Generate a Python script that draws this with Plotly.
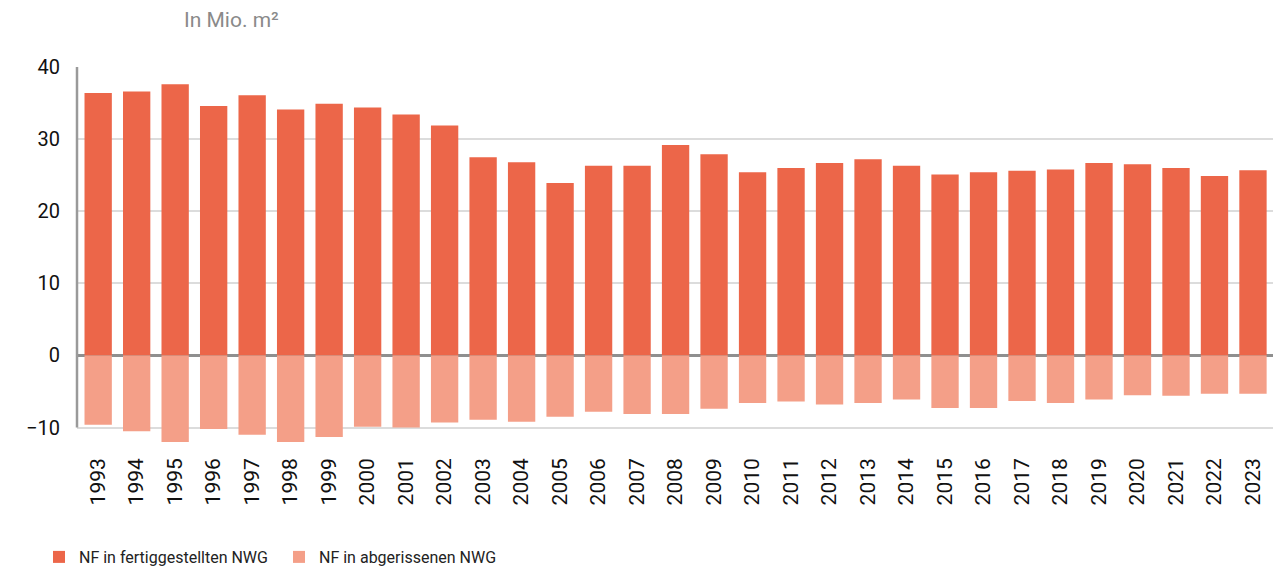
import plotly.graph_objects as go

years = [str(y) for y in range(1993, 2024)]
fertig = [36.4, 36.6, 37.6, 34.6, 36.1, 34.1, 34.9, 34.4, 33.4, 31.9, 27.5,
          26.8, 23.9, 26.3, 26.3, 29.2, 27.9, 25.4, 26.0, 26.7, 27.2,
          26.3, 25.1, 25.4, 25.6, 25.8, 26.7, 26.5, 26.0, 24.9, 25.7]
abgerissen = [-9.6, -10.5, -12.0, -10.2, -11.0, -12.0, -11.3, -9.9, -10.0, -9.3, -8.9,
              -9.2, -8.5, -7.8, -8.1, -8.1, -7.4, -6.6, -6.4, -6.8, -6.6,
              -6.1, -7.3, -7.3, -6.3, -6.6, -6.1, -5.5, -5.6, -5.3, -5.3]
yticks = [-10, 0, 10, 20, 30, 40]

c_dark = "#EC6649"
c_light = "#F49F88"

# page body has an 8px margin; figure coordinates = screen coordinates - 8
OFF = 8
W, H = 1281 - OFF, 570 - OFF
L, R = 77 - OFF, 3
T = 67 - OFF
B = H - (442 - OFF)
pw = W - L - R
ph = H - T - B

fig = go.Figure()
fig.add_trace(go.Bar(x=years, y=fertig, name="NF in fertiggestellten NWG",
                     marker=dict(color=c_dark, line=dict(width=0))))
fig.add_trace(go.Bar(x=years, y=abgerissen, name="NF in abgerissenen NWG",
                     marker=dict(color=c_light, line=dict(width=0))))

fig.update_layout(
    width=W, height=H,
    barmode="relative", bargap=0.29,
    plot_bgcolor="white", paper_bgcolor="white",
    margin=dict(l=L, r=R, t=T, b=B, autoexpand=False),
    font=dict(family="Roboto", color="#111111"),
    showlegend=True,
    legend=dict(orientation="h", x=(52 - OFF - 13 - L) / pw, xanchor="left",
                y=-(557 - 442) / ph, yanchor="middle",
                font=dict(size=16, color="#222222", family="Roboto"),
                itemwidth=30, traceorder="normal",
                entrywidthmode="pixels", entrywidth=195),
    annotations=[dict(text="In Mio. m²", xref="paper", yref="paper",
                      x=(182 - 77) / pw, y=1.0, yshift=47, xanchor="left", yanchor="middle",
                      showarrow=False, font=dict(size=21, color="#8a8a8a", family="Roboto"))],
)
fig.update_xaxes(type="category", tickangle=-90, tickfont=dict(size=21, color="#111111"),
                 range=[-0.55, len(years) - 0.35],
                 showgrid=False, showline=False, ticks="", ticklabelstandoff=11,
                 automargin=False)
fig.update_yaxes(range=[-12, 40], tickvals=yticks, tickfont=dict(size=20, color="#111111"),
                 showgrid=True, gridcolor="#dcdcdc", gridwidth=1.5,
                 zeroline=True, zerolinecolor="#8f8f8f", zerolinewidth=3,
                 showline=False, ticks="", ticklabelstandoff=16, automargin=False)
fig.add_shape(type="line", xref="paper", yref="y", x0=0, x1=0, y0=-10, y1=40,
              line=dict(color="#9a9a9a", width=2.5), layer="above")

fig.write_html("out.html")
